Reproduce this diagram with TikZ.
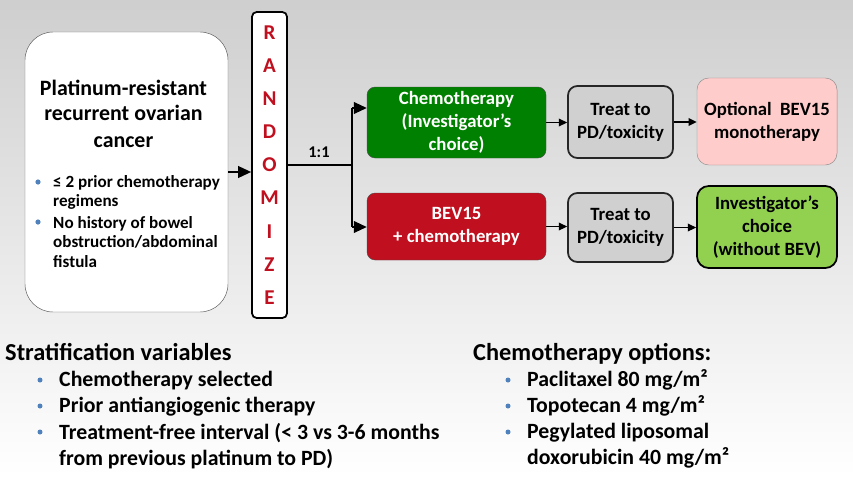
\documentclass[tikz,border=0pt]{standalone}
\usepackage{fontspec}
\setmainfont{Carlito}
\usepackage{tikz}
\usetikzlibrary{arrows.meta}
\definecolor{chemogreen}{RGB}{0,128,0}
\definecolor{bevred}{RGB}{192,15,30}
\definecolor{treatgray}{RGB}{208,208,208}
\definecolor{optpink}{RGB}{255,204,204}
\definecolor{invgreen}{RGB}{146,208,80}
\definecolor{dotblue}{RGB}{79,129,189}

\begin{document}
\begin{tikzpicture}[x=0.03cm,y=-0.03cm,
  bigtip/.style={-{Triangle[length=11pt,width=10pt]}},
  smalltip/.style={-{Triangle[length=7pt,width=6.5pt]}},
  arm/.style={rounded corners=7pt,inner sep=0pt,align=center,text=white,draw=black!70,
    font=\fontsize{16}{19.5}\selectfont\bfseries},
  stage/.style={rounded corners=8pt,inner sep=0pt,align=center,
    font=\fontsize{16}{19.5}\selectfont\bfseries},
  boxline/.style={anchor=base,inner sep=0pt,font=\fontsize{18.7}{22}\selectfont\bfseries},
  crit/.style={anchor=base west,inner sep=0pt,font=\fontsize{14.6}{17}\selectfont\bfseries},
  head/.style={anchor=base west,inner sep=0pt,font=\fontsize{20.8}{24}\selectfont\bfseries},
  item/.style={anchor=base west,inner sep=0pt,font=\fontsize{18.6}{21}\selectfont\bfseries}]
\shade[top color=black!19,bottom color=white] (0,0) rectangle (853,476);
\useasboundingbox (0,0) rectangle (853,476);
% patient box
\node[draw=black!65,fill=white,rounded corners=24pt,minimum width=6.09cm,minimum height=8.4cm] (patient) at (126.5,172) {};
\node[boxline] (pt1) at (123.5,95) {Platinum-resistant};
\node[boxline] (pt2) at (123.5,120) {recurrent ovarian};
\node[boxline] (pt3) at (123.5,147) {cancer};
\fill[dotblue] (38,182) circle [radius=2.6];
\fill[dotblue] (38,222) circle [radius=2.6];
\node[crit] (c1) at (53,187) {≤ 2 prior chemotherapy};
\node[crit] (c2) at (53,206.5) {regimens};
\node[crit] (c3) at (53,228) {No history of bowel};
\node[crit] (c4) at (53,247.5) {obstruction/abdominal};
\node[crit] (c5) at (53,267) {fistula};
% randomize
\node[draw=black,line width=1.5pt,fill=white,rounded corners=4pt,minimum width=1.05cm,minimum height=9.18cm,inner sep=0pt,
  align=center,text=bevred,font=\fontsize{18}{28.3}\selectfont\bfseries] (rand) at (269.5,165)
  {R\\A\\N\\D\\O\\M\\I\\Z\\E};
\draw[bigtip][very thick] (patient.east) -- (patient.east -| rand.west);
% arms
\node[arm,fill=chemogreen,minimum width=5.37cm,minimum height=2.13cm] (chemo) at (456.5,122.5)
  {Chemotherapy\\(Investigator's\\choice)};
\node[arm,fill=bevred,minimum width=5.37cm,minimum height=2.01cm] (bev) at (456.5,226.5)
  {BEV15\\+ chemotherapy};
\coordinate (split) at (352,165);
\coordinate (upper) at (352,108);
\coordinate (lower) at (352,227);
\draw[very thick] (rand.east) -- (split);
\node[font=\fontsize{14}{17}\selectfont\bfseries] (ratio) at (319,152) {1:1};
\draw[very thick] (upper) -- (lower);
\draw[bigtip][very thick] (upper) -- (upper -| chemo.west);
\draw[bigtip][very thick] (lower) -- (lower -| bev.west);
% follow-up
\node[stage,fill=treatgray,draw=black!85,line width=1.5pt,minimum width=3.15cm,minimum height=2.16cm] (treatA) at (620.5,122)
  {Treat to\\PD/toxicity};
\node[stage,fill=treatgray,draw=black!85,line width=1.5pt,minimum width=3.15cm,minimum height=2.07cm] (treatB) at (620.5,227.5)
  {Treat to\\PD/toxicity};
\node[stage,fill=optpink,draw=black!45,rounded corners=10pt,minimum width=4.2cm,minimum height=2.61cm] (optbev) at (767,121.5)
  {Optional~ BEV15\\monotherapy};
\node[stage,fill=invgreen,draw=black,line width=1.5pt,rounded corners=10pt,minimum width=4.2cm,minimum height=2.46cm] (invch) at (767,227)
  {Investigator's\\choice\\(without BEV)};
\draw[smalltip][very thick] (chemo.east) -- (chemo.east -| treatA.west);
\draw[smalltip][very thick] (treatA.east) -- (treatA.east -| optbev.west);
\draw[smalltip][very thick] (bev.east) -- (bev.east -| treatB.west);
\draw[smalltip][very thick] (treatB.east) -- (treatB.east -| invch.west);
% stratification
\node[head] (strat) at (5,360) {Stratification variables};
\fill[dotblue] (40,380) circle [radius=2.5];
\fill[dotblue] (40,406) circle [radius=2.5];
\fill[dotblue] (40,432) circle [radius=2.5];
\node[item] (s1) at (59,386.5) {Chemotherapy selected};
\node[item] (s2) at (59,412.5) {Prior antiangiogenic therapy};
\node[item] (s3) at (59,439) {Treatment-free interval (< 3 vs 3-6 months};
\node[item] (s4) at (59,465) {from previous platinum to PD)};
% options
\node[head] (opts) at (473,360) {Chemotherapy options:};
\fill[dotblue] (508,380) circle [radius=2.5];
\fill[dotblue] (508,406) circle [radius=2.5];
\fill[dotblue] (508,432) circle [radius=2.5];
\node[item] (o1) at (527,386) {Paclitaxel 80 mg/m²};
\node[item] (o2) at (527,412) {Topotecan 4 mg/m²};
\node[item] (o3) at (527,438) {Pegylated liposomal};
\node[item] (o4) at (527,464) {doxorubicin 40 mg/m²};
\end{tikzpicture}
\end{document}
